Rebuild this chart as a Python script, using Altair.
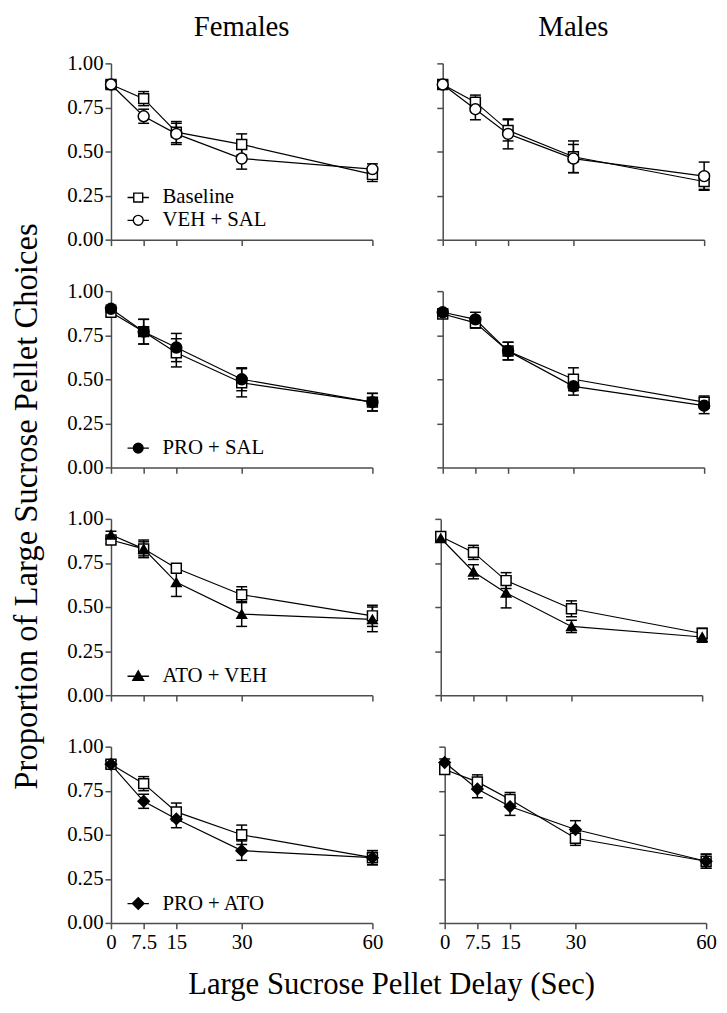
import altair as alt
import pandas as pd

# ---------------- data ----------------
delays = [0, 7.5, 15, 30, 60]
y_ticks = [0, 0.25, 0.5, 0.75, 1.0]
sexes = ["Females", "Males"]
baseline_label = "Baseline"
treatments = ["VEH + SAL", "PRO + SAL", "ATO + VEH", "PRO + ATO"]

fem_base = [
    [0.88, 0.80, 0.61, 0.54, 0.37],
    [0.88, 0.77, 0.65, 0.48, 0.37],
    [0.88, 0.83, 0.72, 0.57, 0.45],
    [0.90, 0.79, 0.63, 0.50, 0.37],
]
fem_base_sem = [
    [0.02, 0.04, 0.06, 0.06, 0.04],
    [0.02, 0.07, 0.08, 0.08, 0.05],
    [0.02, 0.04, 0.02, 0.045, 0.06],
    [0.02, 0.04, 0.05, 0.055, 0.04],
]
fem_drug = [
    [0.88, 0.70, 0.60, 0.46, 0.40],
    [0.90, 0.77, 0.68, 0.50, 0.37],
    [0.91, 0.83, 0.64, 0.46, 0.43],
    [0.90, 0.69, 0.59, 0.41, 0.37],
]
fem_drug_sem = [
    [0.02, 0.04, 0.06, 0.06, 0.03],
    [0.02, 0.07, 0.08, 0.065, 0.05],
    [0.02, 0.05, 0.08, 0.07, 0.07],
    [0.02, 0.04, 0.05, 0.055, 0.04],
]
male_base = [
    [0.88, 0.78, 0.62, 0.47, 0.33],
    [0.87, 0.82, 0.66, 0.50, 0.37],
    [0.90, 0.81, 0.65, 0.49, 0.35],
    [0.87, 0.80, 0.70, 0.48, 0.35],
]
male_base_sem = [
    [0.02, 0.04, 0.06, 0.09, 0.045],
    [0.02, 0.03, 0.05, 0.065, 0.035],
    [0.02, 0.04, 0.045, 0.045, 0.03],
    [0.02, 0.04, 0.04, 0.04, 0.04],
]
male_drug = [
    [0.88, 0.74, 0.60, 0.46, 0.36],
    [0.88, 0.84, 0.66, 0.46, 0.35],
    [0.89, 0.70, 0.58, 0.39, 0.33],
    [0.91, 0.76, 0.66, 0.53, 0.35],
]
male_drug_sem = [
    [0.02, 0.06, 0.085, 0.08, 0.08],
    [0.02, 0.04, 0.05, 0.05, 0.045],
    [0.02, 0.04, 0.085, 0.035, 0.03],
    [0.02, 0.05, 0.05, 0.05, 0.04],
]

# ---------------- styles ----------------
FONT = "Liberation Serif"
marker_style = {
    "Baseline": ("square", "white", 100),
    "VEH + SAL": ("circle", "white", 121),
    "PRO + SAL": ("circle", "black", 121),
    "ATO + VEH": ("triangle-up", "black", 95),
    "PRO + ATO": ("diamond", "black", 130),
}
legend_path = {
    "Baseline": "M-2.4,0H-1M1,0H2.4M-1,-1H1V1H-1Z",
    "VEH + SAL": "M-2.4,0H-1.1M1.1,0H2.4M1.1,0A1.1,1.1,0,1,1,-1.1,0A1.1,1.1,0,1,1,1.1,0Z",
    "PRO + SAL": "M-2.4,0H2.4M1.1,0A1.1,1.1,0,1,1,-1.1,0A1.1,1.1,0,1,1,1.1,0Z",
    "ATO + VEH": "M-2.4,0.1H2.4M0,-1.1L1.2,1H-1.2Z",
    "PRO + ATO": "M-2.4,0H2.4M0,-1.3L1.3,0L0,1.3L-1.3,0Z",
}
W, H = 264, 178

data_sets = {
    0: (fem_base, fem_base_sem, fem_drug, fem_drug_sem),
    1: (male_base, male_base_sem, male_drug, male_drug_sem),
}


def panel(sex_i, row_i):
    base_m, base_s, drug_m, drug_s = data_sets[sex_i]
    treat = treatments[row_i]
    recs = []
    for name, means, sems in [(baseline_label, base_m[row_i], base_s[row_i]),
                              (treat, drug_m[row_i], drug_s[row_i])]:
        for d, m, s in zip(delays, means, sems):
            recs.append({"delay": d, "mean": m, "lo": m - s, "hi": m + s, "series": name})
    df = pd.DataFrame(recs)

    is_left = sex_i == 0
    is_bottom = row_i == 3
    xs = alt.Scale(domain=[0, 60], nice=False, zero=False)
    ys = alt.Scale(domain=[0, 1], nice=False)
    xax = alt.Axis(values=delays, labels=is_bottom, labelExpr="datum.value",
                   labelFlush=False, title=None, grid=False, labelPadding=3)
    yax = alt.Axis(values=y_ticks, format=".2f", labels=is_left, title=None,
                   grid=False, labelPadding=2, labelFlush=False)

    def X():
        return alt.X("delay:Q", scale=xs, axis=xax)

    def Y(f):
        return alt.Y(f"{f}:Q", scale=ys, axis=yax)

    base = alt.Chart(df)
    errs, lines, pts = [], [], []
    for name in [baseline_label, treat]:
        shape, fill, size = marker_style[name]
        sub = base.transform_filter(alt.datum.series == name)
        lines.append(sub.mark_line(color="black", strokeWidth=1.2).encode(x=X(), y=Y("mean")))
        errs.append(sub.mark_rule(color="black", strokeWidth=1.5).encode(
            x=X(), y=Y("lo"), y2="hi:Q"))
        errs.append(sub.transform_fold(["lo", "hi"], as_=["end", "val"]).mark_tick(
            orient="horizontal", size=11, thickness=1.5, color="black", opacity=1
        ).encode(x=X(), y=Y("val")))
        pts.append(sub.mark_point(shape=shape, filled=True, fill=fill, stroke="black",
                                  strokeWidth=1.5, size=size, opacity=1).encode(x=X(), y=Y("mean")))
    layers = errs + lines + pts

    if is_left:
        dom = [baseline_label, treat] if row_i == 0 else [treat]
        leg = alt.Legend(title=None, orient="none", legendX=17,
                         legendY=(125 if row_i == 0 else 148),
                         labelFont=FONT, labelFontSize=21, labelColor="black",
                         symbolStrokeColor="black", symbolStrokeWidth=1.4,
                         symbolSize=81, labelOffset=14, rowPadding=1, padding=0)
        legend_layer = base.transform_filter("false").mark_point(
            filled=True, strokeWidth=1.4, size=81, opacity=1
        ).encode(
            x=X(), y=Y("mean"),
            shape=alt.Shape("series:N", scale=alt.Scale(domain=dom, range=[legend_path[d] for d in dom]), legend=leg),
            fill=alt.Fill("series:N", scale=alt.Scale(domain=dom, range=[marker_style[d][1] for d in dom]), legend=leg),
            stroke=alt.Stroke("series:N", scale=alt.Scale(domain=dom, range=["black"] * len(dom)), legend=leg),
        )
        layers.append(legend_layer)

    ch = alt.layer(*layers).properties(width=W, height=H)
    if row_i == 0:
        ch = ch.properties(title=alt.TitleParams(
            sexes[sex_i], font=FONT, fontSize=29, fontWeight="normal", color="black",
            anchor="middle", offset=(11 if is_left else 21)))
    return ch


rows = []
for r in range(4):
    rows.append(
        alt.hconcat(panel(0, r), panel(1, r), spacing=53)
        .resolve_scale(shape="independent", fill="independent", stroke="independent")
        .resolve_legend(shape="independent", fill="independent", stroke="independent")
    )

grid = alt.vconcat(*rows, spacing=31).resolve_scale(
    shape="independent", fill="independent", stroke="independent"
).resolve_legend(shape="independent", fill="independent", stroke="independent").properties(
    title=alt.TitleParams("Large Sucrose Pellet Delay (Sec)", orient="bottom", anchor="middle",
                          font=FONT, fontSize=31, fontWeight="normal", color="black", offset=18)
)

chart = alt.hconcat(grid).resolve_scale(
    shape="independent", fill="independent", stroke="independent"
).resolve_legend(shape="independent", fill="independent", stroke="independent").properties(
    title=alt.TitleParams("Proportion of Large Sucrose Pellet Choices", orient="left", anchor="middle",
                          font=FONT, fontSize=33, fontWeight="normal", color="black", offset=23),
    padding={"left": 3, "top": 0, "right": 2, "bottom": 2},
).configure_view(stroke=None).configure_axis(
    domainColor="#4d4d4d", tickColor="#4d4d4d", domainWidth=1.5, tickWidth=1.5, tickSize=6,
    labelFont=FONT, labelFontSize=21, labelColor="black", grid=False
)

chart.save("out.html", embed_options={"renderer": "svg", "actions": False})
